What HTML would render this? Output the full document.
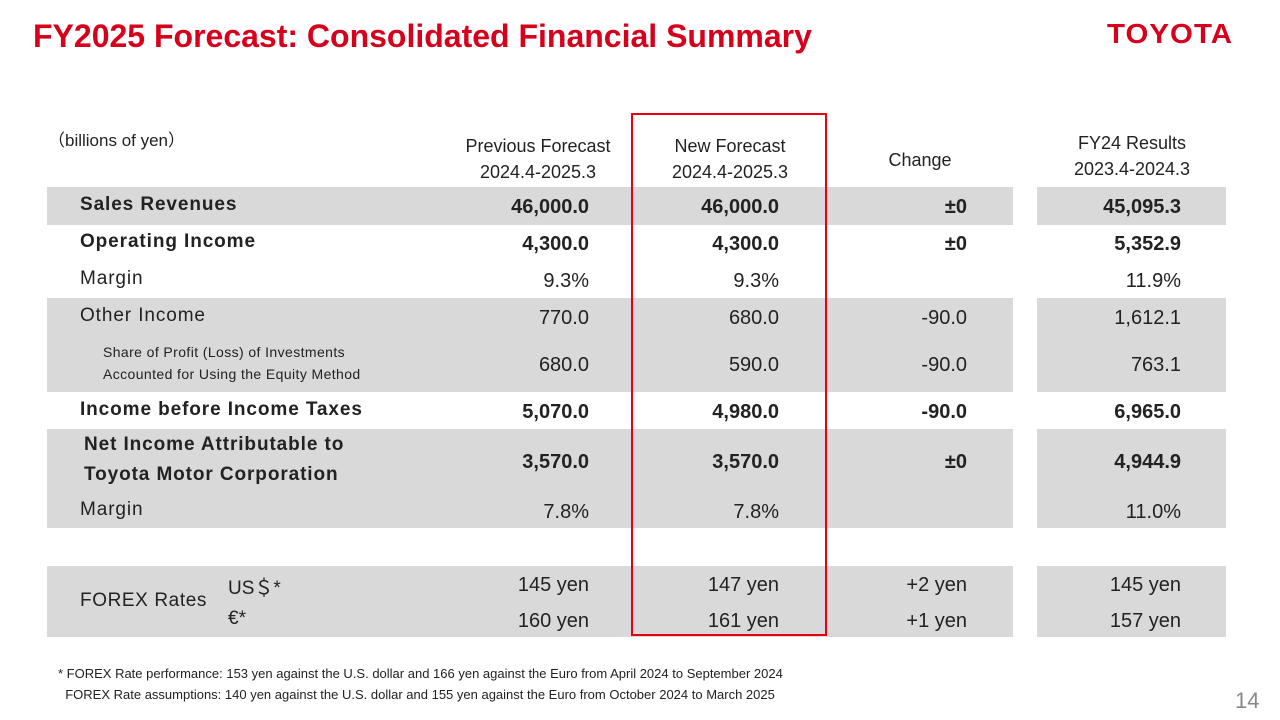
<!DOCTYPE html>
<html><head><meta charset="utf-8"><style>
body{margin:0;width:1280px;height:720px;background:#fff;position:relative;overflow:hidden;font-family:"Liberation Sans","Noto Sans CJK JP",sans-serif;color:#222}
.a{position:absolute;white-space:nowrap}
.g{position:absolute;background:#d9d9d9}
.r{position:absolute;text-align:right;font-size:20px;white-space:nowrap}
.b{font-weight:bold}
.c{position:absolute;text-align:center;font-size:18px;line-height:26px;white-space:nowrap}
</style></head><body>
<div class="a b" style="left:33px;top:18px;font-size:32px;color:#d6001c">FY2025 Forecast: Consolidated Financial Summary</div>
<div class="a b" style="left:1110px;top:18px;font-size:28px;color:#d6001c;letter-spacing:1px;transform:scaleX(1.05)">TOYOTA</div>
<div class="a" style="left:48px;top:126px;font-size:17px">（billions of yen）</div>
<div class="c" style="left:448px;top:133px;width:180px">Previous Forecast<br>2024.4-2025.3</div>
<div class="c" style="left:640px;top:133px;width:180px">New Forecast<br>2024.4-2025.3</div>
<div class="c" style="left:830px;top:147px;width:180px">Change</div>
<div class="c" style="left:1042px;top:130px;width:180px">FY24 Results<br>2023.4-2024.3</div>
<div id="bands"></div>
<div id="rows"></div>
<div class="a" style="left:80px;top:590px;font-size:19px;letter-spacing:0.6px">FOREX Rates</div>
<div class="a" style="left:228px;top:573px;font-size:19px">US＄*</div>
<div class="a" style="left:228px;top:608px;font-size:19px">€*</div>
<div class="a" style="left:631px;top:113px;width:196px;height:523px;border:2px solid #e60012;box-sizing:border-box"></div>
<div class="a" style="left:58px;top:663px;font-size:13px;line-height:21px">* FOREX Rate performance: 153 yen against the U.S. dollar and 166 yen against the Euro from April 2024 to September 2024<br>&nbsp;&nbsp;FOREX Rate assumptions: 140 yen against the U.S. dollar and 155 yen against the Euro from October 2024 to March 2025</div>
<div class="a" style="left:1235px;top:688px;font-size:22px;color:#888">14</div>
<script>
const bandTops=[187,298,429,566];
const bandBots=[225,392,528,637];
const bands=document.getElementById('bands');
for(let i=0;i<bandTops.length;i++){
 for(const [l,w] of [[47,966],[1037,189]]){
  const d=document.createElement('div');d.className='g';
  
  
  d.style.cssText=`left:${l}px;top:${bandTops[i]}px;width:${w}px;height:${bandBots[i]-bandTops[i]}px`;
  bands.appendChild(d);
 }
}
const rowLabels=["Sales Revenues","Operating Income","Margin","Other Income","Share of Profit (Loss) of Investments<br>Accounted for Using the Equity Method","Income before Income Taxes","Net Income Attributable to<br>Toyota Motor Corporation","Margin","",""];
const prevVals=["46,000.0","4,300.0","9.3%","770.0","680.0","5,070.0","3,570.0","7.8%","145 yen","160 yen"];
const newVals=["46,000.0","4,300.0","9.3%","680.0","590.0","4,980.0","3,570.0","7.8%","147 yen","161 yen"];
const changeVals=["±0","±0","","-90.0","-90.0","-90.0","±0","","+2 yen","+1 yen"];
const fy24Vals=["45,095.3","5,352.9","11.9%","1,612.1","763.1","6,965.0","4,944.9","11.0%","145 yen","157 yen"];
const rowMid=[207,244,281,318,365,412,462,512,585,621];
const rowBold=[1,1,0,0,0,1,1,0,0,0];
const rows=document.getElementById('rows');
for(let i=0;i<rowMid.length;i++){
 const y=rowMid[i];
 if(rowLabels[i]){
  const L=document.createElement('div');L.className='a';
  
  
  const small=i===4, two=i===6;
  L.style.left=(small?103:(two?84:80))+'px';
  L.style.fontSize=small?'14px':'19px';
  L.style.lineHeight=small?'22px':(two?'30px':'22px');
  L.style.fontWeight=rowBold[i]?'bold':'normal';
  L.style.letterSpacing=small?'0.4px':'0.9px';
  L.innerHTML=rowLabels[i];
  rows.appendChild(L);
  L.style.top=(y-L.offsetHeight/2-2)+'px';
 }
 const cols=[[prevVals,589],[newVals,779],[changeVals,967],[fy24Vals,1181]];
 for(const [arr,right] of cols){
  const v=document.createElement('div');v.className='r';
  
  
  v.style.cssText=`right:${1280-right}px;top:${y-11}px;font-weight:${rowBold[i]||arr[i].startsWith('±')?'bold':'normal'}`;
  v.textContent=arr[i];
  rows.appendChild(v);
 }
}
</script>
</body></html>
